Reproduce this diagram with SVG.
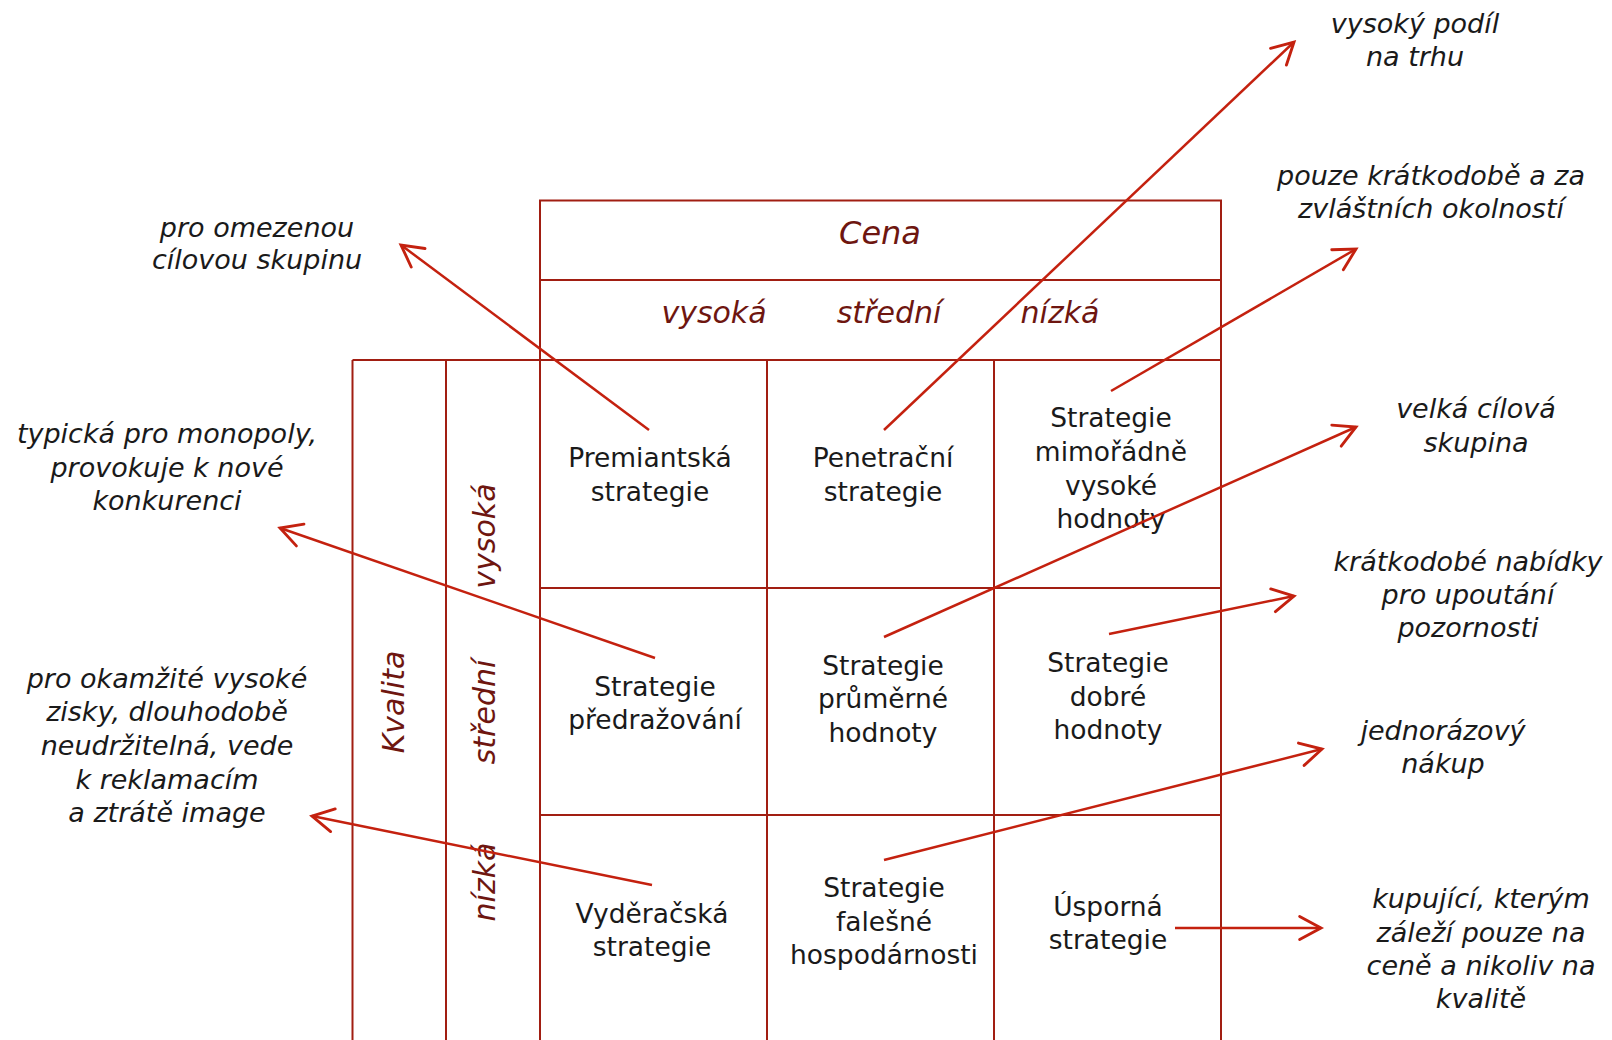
<svg xmlns="http://www.w3.org/2000/svg" width="1612" height="1040" viewBox="0 0 1612 1040">
  <style>
    .grid { fill: none; stroke: #a11e12; stroke-width: 2; }
    .hdr { font-family: "DejaVu Sans", "Noto Sans", sans-serif; font-style: italic; fill: #6e1610; text-anchor: middle; }
    .cell { font-family: "DejaVu Sans", "Noto Sans", sans-serif; font-size: 26.5px; fill: #1a1a1a; text-anchor: middle; }
    .note { font-family: "DejaVu Sans", "Noto Sans", sans-serif; font-style: italic; font-size: 27px; fill: #1a1a1a; text-anchor: middle; }
    .link { fill: none; stroke: #c4210f; stroke-width: 2.5; marker-end: url(#head); }
  </style>
  <defs>
    <marker id="head" markerUnits="userSpaceOnUse" markerWidth="30" markerHeight="30" viewBox="-22 -13 26 26" refX="0" refY="0" orient="auto">
      <path d="M -18.5 -10 L 0 0 L -18.5 10" fill="none" stroke="#c4210f" stroke-width="2.5" stroke-linecap="round" stroke-linejoin="miter"/>
    </marker>
  </defs>
  <rect width="1612" height="1040" fill="#ffffff"/>

  <!-- table frame -->
  <g id="table">
    <rect class="grid" x="540" y="200.5" width="681" height="159.5"/>
    <line class="grid" x1="540" y1="280" x2="1221" y2="280"/>
    <line class="grid" x1="352.5" y1="360" x2="1221" y2="360"/>
    <line class="grid" x1="352.5" y1="360" x2="352.5" y2="1042"/>
    <line class="grid" x1="446" y1="360" x2="446" y2="1042"/>
    <line class="grid" x1="540" y1="360" x2="540" y2="1042"/>
    <line class="grid" x1="767" y1="360" x2="767" y2="1042"/>
    <line class="grid" x1="994" y1="360" x2="994" y2="1042"/>
    <line class="grid" x1="1221" y1="360" x2="1221" y2="1042"/>
    <line class="grid" x1="540" y1="588" x2="1221" y2="588"/>
    <line class="grid" x1="540" y1="815" x2="1221" y2="815"/>
  </g>

  <!-- axis headings -->
  <g id="axis-cena">
    <text class="hdr" x="880" y="244" font-size="32">Cena</text>
  </g>
  <g id="cena-vysoka"><text class="hdr" x="714" y="323" font-size="30">vysoká</text></g>
  <g id="cena-stredni"><text class="hdr" x="889" y="323" font-size="30">střední</text></g>
  <g id="cena-nizka"><text class="hdr" x="1060" y="323" font-size="30">nízká</text></g>
  <g id="axis-kvalita">
    <text class="hdr" font-size="30" transform="translate(404 702) rotate(-90)">Kvalita</text>
  </g>
  <g id="kvalita-vysoka"><text class="hdr" font-size="30" transform="translate(495 536) rotate(-90)">vysoká</text></g>
  <g id="kvalita-stredni"><text class="hdr" font-size="30" transform="translate(495 712) rotate(-90)">střední</text></g>
  <g id="kvalita-nizka"><text class="hdr" font-size="30" transform="translate(495 882) rotate(-90)">nízká</text></g>

  <!-- strategy cells -->
  <g id="premiantska">
    <text class="cell" x="650" y="467">Premiantská</text>
    <text class="cell" x="650" y="501">strategie</text>
  </g>
  <g id="penetracni">
    <text class="cell" x="883" y="467">Penetrační</text>
    <text class="cell" x="883" y="501">strategie</text>
  </g>
  <g id="mimoradne-vysoke-hodnoty">
    <text class="cell" x="1111" y="427">Strategie</text>
    <text class="cell" x="1111" y="460.5">mimořádně</text>
    <text class="cell" x="1111" y="494.5">vysoké</text>
    <text class="cell" x="1111" y="528">hodnoty</text>
  </g>
  <g id="predrazovani">
    <text class="cell" x="655" y="696">Strategie</text>
    <text class="cell" x="655" y="729">předražování</text>
  </g>
  <g id="prumerne-hodnoty">
    <text class="cell" x="883" y="674.5">Strategie</text>
    <text class="cell" x="883" y="708">průměrné</text>
    <text class="cell" x="883" y="742">hodnoty</text>
  </g>
  <g id="dobre-hodnoty">
    <text class="cell" x="1108" y="672">Strategie</text>
    <text class="cell" x="1108" y="705.5">dobré</text>
    <text class="cell" x="1108" y="739">hodnoty</text>
  </g>
  <g id="vyderacska">
    <text class="cell" x="652" y="923">Vyděračská</text>
    <text class="cell" x="652" y="956">strategie</text>
  </g>
  <g id="falesne-hospodarnosti">
    <text class="cell" x="884" y="896.5">Strategie</text>
    <text class="cell" x="884" y="930.5">falešné</text>
    <text class="cell" x="884" y="964">hospodárnosti</text>
  </g>
  <g id="usporna">
    <text class="cell" x="1108" y="916">Úsporná</text>
    <text class="cell" x="1108" y="948.5">strategie</text>
  </g>

  <!-- annotations -->
  <g id="note-omezena-skupina">
    <text class="note" x="257" y="236.5">pro omezenou</text>
    <text class="note" x="257" y="269">cílovou skupinu</text>
  </g>
  <g id="note-monopoly">
    <text class="note" x="167" y="443">typická pro monopoly,</text>
    <text class="note" x="167" y="476.5">provokuje k nové</text>
    <text class="note" x="167" y="510">konkurenci</text>
  </g>
  <g id="note-okamzite-zisky">
    <text class="note" x="167" y="688">pro okamžité vysoké</text>
    <text class="note" x="167" y="721">zisky, dlouhodobě</text>
    <text class="note" x="167" y="755">neudržitelná, vede</text>
    <text class="note" x="167" y="788.5">k reklamacím</text>
    <text class="note" x="167" y="821.5">a ztrátě image</text>
  </g>
  <g id="note-podil">
    <text class="note" x="1415" y="33">vysoký podíl</text>
    <text class="note" x="1415" y="66">na trhu</text>
  </g>
  <g id="note-kratkodobe">
    <text class="note" x="1431" y="185">pouze krátkodobě a za</text>
    <text class="note" x="1431" y="218">zvláštních okolností</text>
  </g>
  <g id="note-velka-skupina">
    <text class="note" x="1476" y="417.5">velká cílová</text>
    <text class="note" x="1476" y="451.5">skupina</text>
  </g>
  <g id="note-nabidky">
    <text class="note" x="1468" y="571">krátkodobé nabídky</text>
    <text class="note" x="1468" y="604">pro upoutání</text>
    <text class="note" x="1468" y="637">pozornosti</text>
  </g>
  <g id="note-jednorazovy">
    <text class="note" x="1443" y="740">jednorázový</text>
    <text class="note" x="1443" y="773">nákup</text>
  </g>
  <g id="note-cena">
    <text class="note" x="1481" y="908">kupující, kterým</text>
    <text class="note" x="1481" y="942">záleží pouze na</text>
    <text class="note" x="1481" y="975">ceně a nikoliv na</text>
    <text class="note" x="1481" y="1008">kvalitě</text>
  </g>

  <!-- connectors: strategy to its characterisation -->
  <g id="connectors">
    <line class="link" x1="649" y1="430" x2="401" y2="245"/>
    <line class="link" x1="884" y1="430" x2="1294" y2="42"/>
    <line class="link" x1="1111" y1="391" x2="1356" y2="249"/>
    <line class="link" x1="884" y1="637" x2="1356" y2="427"/>
    <line class="link" x1="1109" y1="634" x2="1294" y2="596"/>
    <line class="link" x1="884" y1="860" x2="1322" y2="749"/>
    <line class="link" x1="1175" y1="928" x2="1321" y2="928"/>
    <line class="link" x1="655" y1="658" x2="280" y2="528"/>
    <line class="link" x1="652" y1="885" x2="312" y2="816"/>
  </g>
</svg>
